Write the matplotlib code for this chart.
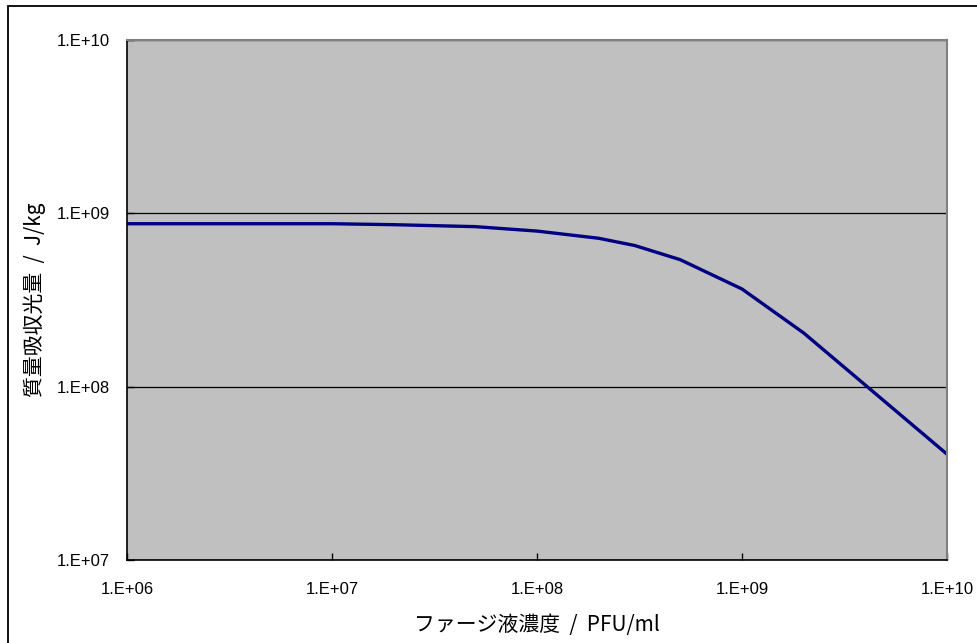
import matplotlib
matplotlib.use("Agg")
import matplotlib.pyplot as plt
from matplotlib.patches import Rectangle
from matplotlib.ticker import FixedLocator, FixedFormatter, NullLocator

plt.rcParams['font.family'] = ['Liberation Sans', 'Noto Sans CJK JP', 'DejaVu Sans']

# phage concentration (PFU/ml) and mass absorbed light energy (J/kg)
concentration = [1e6, 1e7, 2e7, 5e7, 1e8, 2e8, 3e8, 5e8, 1e9, 2e9, 5e9, 1e10]
absorbed = [8.71e8, 8.71e8, 8.6e8, 8.38e8, 7.9e8, 7.18e8, 6.52e8, 5.4e8, 3.66e8, 2.04e8, 8.16e7, 4.08e7]

x_ticks = [1e6, 1e7, 1e8, 1e9, 1e10]
x_labels = ["1.E+06", "1.E+07", "1.E+08", "1.E+09", "1.E+10"]
y_ticks = [1e7, 1e8, 1e9, 1e10]
y_labels = ["1.E+07", "1.E+08", "1.E+09", "1.E+10"]

fig = plt.figure(figsize=(9.77, 6.43), dpi=100)
fig.patch.set_facecolor("white")

# outer chart border (cropped at right and bottom like the original)
fig.patches.append(Rectangle((8 / 977, -0.1), 1.2, (643 - 6) / 643 + 0.1,
                             transform=fig.transFigure, fill=False,
                             edgecolor="black", linewidth=1.3))

ax = fig.add_axes([127 / 977, 83 / 643, 820 / 977, 520 / 643])
ax.set_facecolor("#C0C0C0")
ax.set_xscale("log")
ax.set_yscale("log")
ax.set_xlim(1e6, 1e10)
ax.set_ylim(1e7, 1e10)

ax.yaxis.grid(True, color="black", linewidth=0.9)
ax.set_axisbelow(True)

ax.plot(concentration, absorbed, color="#000080", linewidth=2.4, solid_joinstyle="miter")

ax.xaxis.set_major_locator(FixedLocator(x_ticks))
ax.xaxis.set_major_formatter(FixedFormatter(x_labels))
ax.yaxis.set_major_locator(FixedLocator(y_ticks))
ax.yaxis.set_major_formatter(FixedFormatter(y_labels))
ax.xaxis.set_minor_locator(NullLocator())
ax.yaxis.set_minor_locator(NullLocator())
ax.tick_params(direction="in", length=5, width=1, labelsize=12, colors="black")
ax.tick_params(axis="x", pad=16)
ax.tick_params(axis="y", pad=12)

for side in ["left", "bottom"]:
    ax.spines[side].set_color("black")
    ax.spines[side].set_linewidth(1.2)
for side in ["top", "right"]:
    ax.spines[side].set_color("#808080")
    ax.spines[side].set_linewidth(1.5)

ax.set_xlabel("ファージ液濃度  /  PFU/ml", fontsize=15,
              family=["Noto Sans CJK JP", "DejaVu Sans"], labelpad=12)
ax.set_ylabel("質量吸収光量  /  J/kg", fontsize=15,
              family=["Noto Sans CJK JP", "DejaVu Sans"], labelpad=8)

fig.savefig("out.png", dpi=100)
